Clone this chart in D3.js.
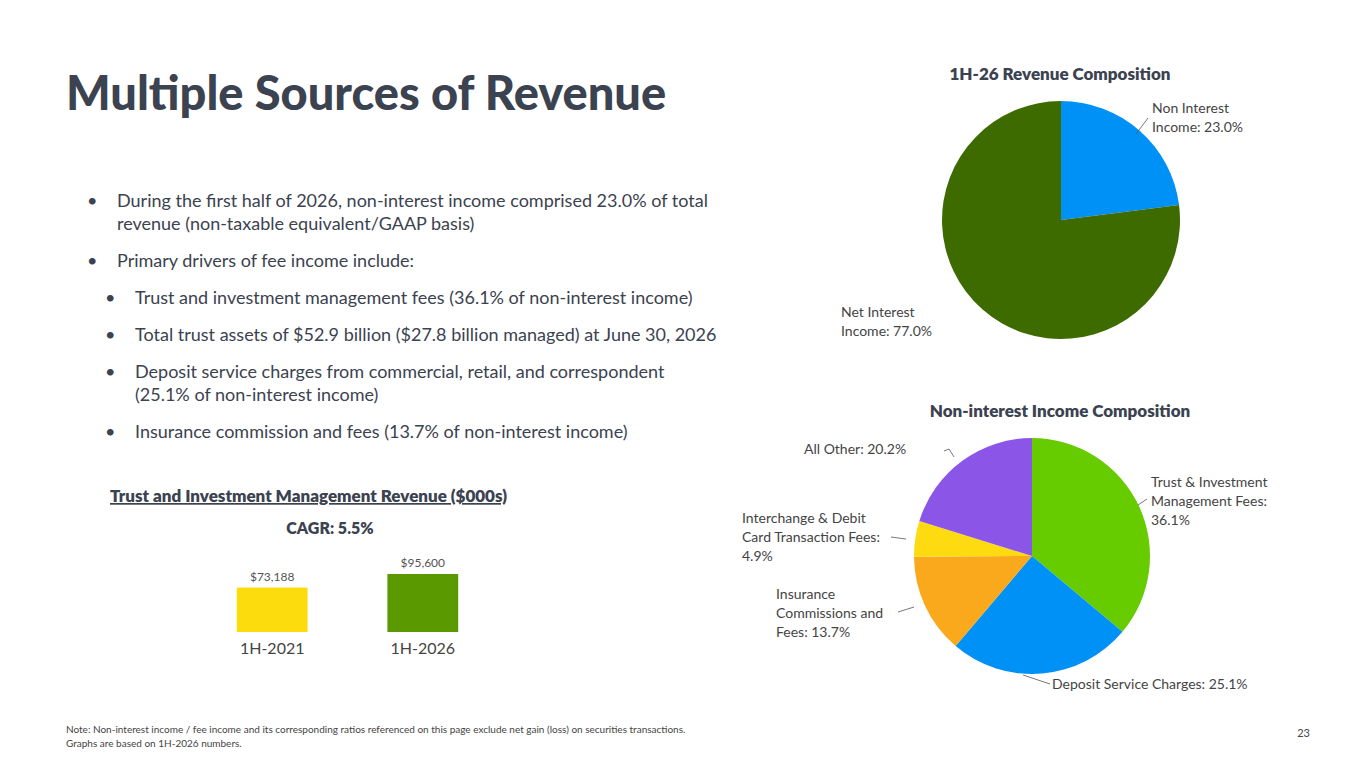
<!DOCTYPE html>
<html><head><meta charset="utf-8">
<script src="https://cdn.jsdelivr.net/npm/d3@7"></script>
<style>body{margin:0;background:#fff}</style>
</head><body><div id="viz"></div>
<script>
// data
let revLabels = ["Non Interest Income: 23.0%", "Net Interest Income: 77.0%"]
let revValues = [23.0, 77.0]
let revColors = ["#0091f7", "#3d6b00"]

let feeLabels = ["Trust & Investment Management Fees: 36.1%", "Deposit Service Charges: 25.1%", "Insurance Commissions and Fees: 13.7%", "Interchange & Debit Card Transaction Fees: 4.9%", "All Other: 20.2%"]
let feeValues = [36.1, 25.1, 13.7, 4.9, 20.2]
let feeColors = ["#66cc00", "#0091f7", "#f9a91b", "#fddb10", "#8b55e8"]

let barCats = ["1H-2021", "1H-2026"]
let barValues = [73188, 95600]
let barColors = ["#fddc0d", "#5a9a00"]

let bullets = [
  [0, ["During the first half of 2026, non-interest income comprised 23.0% of total", "revenue (non-taxable equivalent/GAAP basis)"]],
  [0, ["Primary drivers of fee income include:"]],
  [1, ["Trust and investment management fees (36.1% of non-interest income)"]],
  [1, ["Total trust assets of $52.9 billion ($27.8 billion managed) at June 30, 2026"]],
  [1, ["Deposit service charges from commercial, retail, and correspondent", "(25.1% of non-interest income)"]],
  [1, ["Insurance commission and fees (13.7% of non-interest income)"]]
]

let dark = "#3b4250", font = "Lato, 'Open Sans', sans-serif"
let svg = d3.select('#viz').append('svg').attr("width",1365).attr("height",768).style("font-family",font)

svg.append("text").text("Multiple Sources of Revenue").attr("x",66).attr("y",110)
  .attr("font-size",47).attr("font-weight",900).attr("fill",dark)

//Bullets
let by = 207
bullets.forEach(b=>{
  let x = b[0] ? 135 : 117
  svg.append("text").text("•").attr("x",x-30).attr("y",by).attr("font-size",18).attr("fill",dark)
  b[1].forEach((l,i)=>{
    svg.append("text").text(l).attr("x",x).attr("y",by+i*23).attr("font-size",18).attr("fill",dark)
  })
  by += 23*b[1].length + 14
})

//Bar chart
svg.append("text").text("Trust and Investment Management Revenue ($000s)").attr("x",110).attr("y",502)
  .attr("font-size",17).attr("font-weight",800).attr("fill",dark).attr("text-decoration","underline")
svg.append("text").text("CAGR: 5.5%").attr("x",330).attr("y",534).attr("text-anchor","middle")
  .attr("font-size",16).attr("font-weight",800).attr("fill",dark)
let xb = d3.scaleBand().domain(barCats).range([157,538]).padding(0.53)
let yb = d3.scaleLinear().domain([0,95600]).range([632,574])
let y0 = 632 - (632-574)*0 // baseline offset not zero-based
yb = d3.scaleLinear().domain([0,95600]).range([632+ (58/ (95600-73188))*0 ,574])
// bars appear to start from baseline 632
let hScale = d3.scaleLinear().domain([0,95600]).range([0,58])
barCats.forEach((c,i)=>{
  svg.append("rect").attr("x",xb(c)).attr("width",xb.bandwidth()).attr("y",632-hScale(barValues[i]))
    .attr("height",hScale(barValues[i])).attr("fill",barColors[i])
  svg.append("text").text("$"+d3.format(",")(barValues[i])).attr("x",xb(c)+xb.bandwidth()/2).attr("y",632-hScale(barValues[i])-7)
    .attr("text-anchor","middle").attr("font-size",12).attr("fill","#555")
  svg.append("text").text(c).attr("x",xb(c)+xb.bandwidth()/2).attr("y",654)
    .attr("text-anchor","middle").attr("font-size",16).attr("fill","#444")
})

function pie(cx, cy, r, values, colors){
  let arcs = d3.pie().sort(null)(values)
  let arc = d3.arc().innerRadius(0).outerRadius(r)
  let g = svg.append("g").attr("transform",`translate(${cx},${cy})`)
  g.selectAll("path").data(arcs).join("path").attr("d",arc).attr("fill",(d,i)=>colors[i])
  return arcs
}
function label(lines, x, y, anchor){
  lines.forEach((l,i)=>svg.append("text").text(l).attr("x",x).attr("y",y+i*19)
    .attr("font-size",14).attr("fill","#444").attr("text-anchor",anchor||"start"))
}
function leader(pts){
  svg.append("path").attr("d",d3.line()(pts)).attr("fill","none").attr("stroke","#555").attr("stroke-width",0.8)
}

//Pie 1
svg.append("text").text("1H-26 Revenue Composition").attr("x",1060).attr("y",80).attr("text-anchor","middle")
  .attr("font-size",17).attr("font-weight",800).attr("fill",dark)
pie(1061,220,119,revValues,revColors)
label(["Non Interest","Income: 23.0%"],1152,113)
leader([[1136,134],[1148,118]])
label(["Net Interest","Income: 77.0%"],841,317)

//Pie 2
svg.append("text").text("Non-interest Income Composition").attr("x",1060).attr("y",417).attr("text-anchor","middle")
  .attr("font-size",17).attr("font-weight",800).attr("fill",dark)
pie(1032,556,118,feeValues,feeColors)
label(["Trust & Investment","Management Fees:","36.1%"],1151,487)
leader([[1138,505],[1147,499]])
label(["Deposit Service Charges: 25.1%"],1052,689)
leader([[1023,675],[1050,684]])
label(["Insurance","Commissions and","Fees: 13.7%"],776,599)
leader([[898,612],[914,607]])
label(["Interchange & Debit","Card Transaction Fees:","4.9%"],742,523)
leader([[891,537],[906,539]])
label(["All Other: 20.2%"],804,454)
leader([[944,451],[949,449],[954,457]])

svg.append("text").text("Note: Non-interest income / fee income and its corresponding ratios referenced on this page exclude net gain (loss) on securities transactions.")
  .attr("x",66).attr("y",733).attr("font-size",10).attr("fill","#444")
svg.append("text").text("Graphs are based on 1H-2026 numbers.").attr("x",66).attr("y",747).attr("font-size",10).attr("fill","#444")
svg.append("text").text("23").attr("x",1310).attr("y",737).attr("text-anchor","end").attr("font-size",11).attr("fill","#444")
</script></body></html>
